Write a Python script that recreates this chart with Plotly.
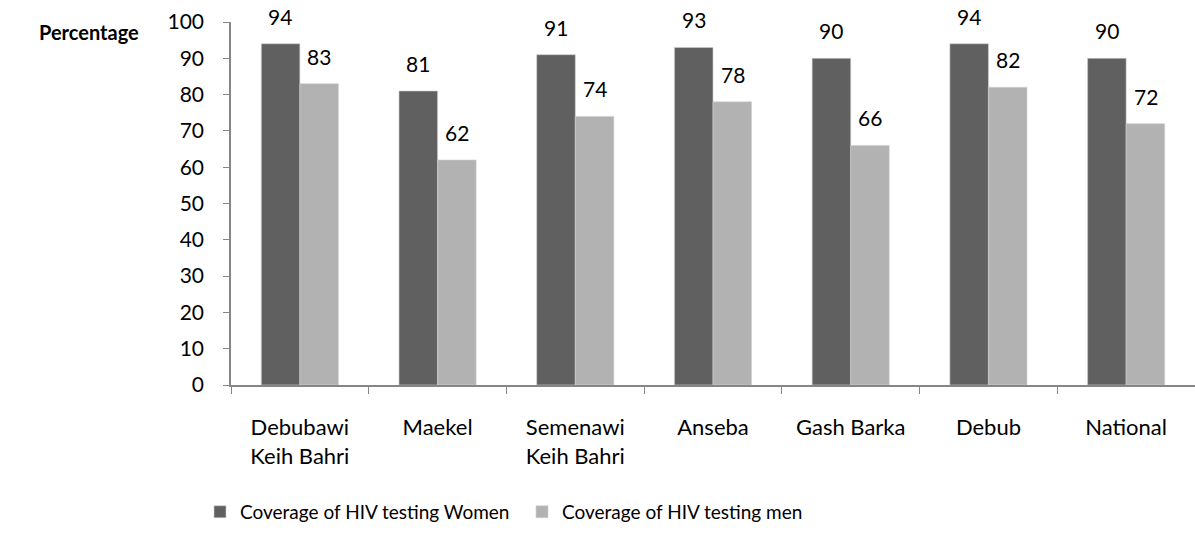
import plotly.graph_objects as go

regions = ["Debubawi<br>Keih Bahri", "Maekel", "Semenawi<br>Keih Bahri", "Anseba",
           "Gash Barka", "Debub", "National"]
women = [94, 81, 91, 93, 90, 94, 90]
men = [83, 62, 74, 78, 66, 82, 72]
series_names = ["Coverage of HIV testing Women", "Coverage of HIV testing men"]
y_ticks = [0, 10, 20, 30, 40, 50, 60, 70, 80, 90, 100]

font_family = "Lato, Open Sans, sans-serif"
axis_color = "#868686"
colors = ["#606060", "#b2b2b2"]

W, H = 1195, 544
ML, MR, MT, MB = 231, 0, 22, 159
plot_w, plot_h = W - ML - MR, H - MT - MB

fig = go.Figure()
for name, vals, color in [(series_names[0], women, colors[0]),
                          (series_names[1], men, colors[1])]:
    fig.add_trace(go.Bar(
        x=regions, y=vals, name=name,
        marker=dict(color=color, line=dict(color="#d0d0d0", width=0.6)),
    ))

# value labels above each bar, offset to the left/right bar of the pair
annotations = []
for vals, xshift in [(women, -19.5), (men, 19.5)]:
    for cat, v in zip(regions, vals):
        annotations.append(dict(
            x=cat, y=v, xref="x", yref="y", text=str(v), showarrow=False,
            xanchor="center", yanchor="bottom", xshift=xshift, yshift=13,
            font=dict(size=21, family=font_family, color="#000000"),
        ))
annotations.append(dict(
    text="<b>Percentage</b>", xref="paper", yref="paper",
    x=(37 - ML) / plot_w, y=(H - MB - 32) / plot_h,
    xanchor="left", yanchor="middle",
    showarrow=False, font=dict(size=20, family=font_family),
))

fig.update_layout(
    width=W, height=H,
    margin=dict(l=ML, r=MR, t=MT, b=MB),
    paper_bgcolor="white", plot_bgcolor="white",
    barmode="group", bargap=0.44, bargroupgap=0,
    font=dict(family=font_family, size=20, color="#000000"),
    showlegend=True,
    legend=dict(
        orientation="h", xref="container", yref="container",
        x=200 / W, y=0.059, xanchor="left", yanchor="middle",
        entrywidth=277, entrywidthmode="pixels",
        font=dict(size=19), itemwidth=30, traceorder="normal",
    ),
    annotations=annotations,
)

fig.update_xaxes(
    showline=True, linecolor=axis_color, linewidth=1.5,
    ticks="outside", tickson="boundaries", ticklen=7, tickcolor=axis_color,
    tickfont=dict(size=22), showgrid=False, ticklabelstandoff=22,
)
fig.update_yaxes(
    range=[0, 100], tickvals=y_ticks, showline=True, linecolor=axis_color,
    linewidth=1.5, ticks="outside", ticklen=6, tickcolor=axis_color,
    tickfont=dict(size=21), showgrid=False, zeroline=False,
    ticklabelstandoff=15,
)

fig.write_html("out.html")
